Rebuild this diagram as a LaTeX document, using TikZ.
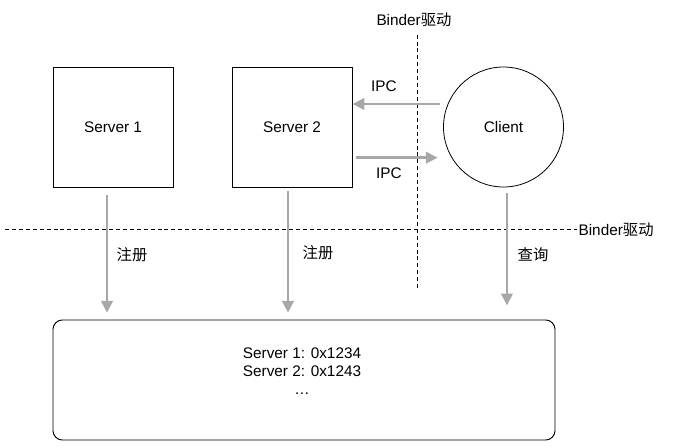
\documentclass[tikz,border=0pt]{standalone}
\usepackage{fontspec}
\setmainfont{Liberation Sans}
\newfontfamily\cjk{Noto Sans CJK SC}
\usetikzlibrary{arrows.meta}
\definecolor{flowgray}{HTML}{A8A8A8}
\begin{document}
\begin{tikzpicture}
    [
        x=0.75pt, y=-0.75pt,
        every node/.style={font=\fontsize{11.5}{13.5}\selectfont},
        process/.style={rectangle, draw, line width=0.7pt, minimum size=90pt, inner sep=0pt},
        client/.style={circle, draw, line width=0.6pt, minimum size=90pt, inner sep=0pt},
        registry/.style={rectangle, draw, rounded corners=7pt, line width=0.7pt, minimum width=376.5pt, minimum height=90pt},
        flow/.style={draw=flowgray, line width=2.2pt, -{Triangle[length=9pt, width=8.5pt, fill=flowgray]}},
        border/.style={dashed, dash pattern=on 3pt off 2.2pt, line width=0.6pt},
    ]
    \useasboundingbox (0,0) rectangle (675,448);
    \node (s1) at (113,127) [process] {Server 1};
    \node (s2) at (292,127) [process] {Server 2};
    \node (cl) at (503.5,127) [client] {Client};
    \node (reg) at (304,380) [registry] {};
    \node (tab) at (302,371) [align=center] {Server 1: 0x1234\\Server 2: 0x1243\\…};
    % driver borders
    \node (bindv) at (414,20) {Binder{\cjk 驱动}};
    \node (bindh) at (577,230) [anchor=west, inner sep=1pt] {Binder{\cjk 驱动}};
    \coordinate (vend) at (417,290);
    \coordinate (hend) at (5,229);
    \draw [border] (bindv.south -| vend) ++(0,3) -- (vend);
    \draw [border] (hend) -- (bindh.west |- hend);
    % IPC
    \draw [flow] ([yshift=17.25pt, xshift=-2.7pt]cl.west) -- ([yshift=17.25pt]s2.east);
    \draw [flow] ([yshift=-23pt, xshift=2.5pt]s2.east) -- ([yshift=-23pt, xshift=-4pt]cl.west);
    \node (ipc1) at (384,86) {IPC};
    \node (ipc2) at (389,173) {IPC};
    % register and query
    \draw [flow, shorten <=6pt, shorten >=5pt] ([xshift=-4.5pt]s1.south) -- ([xshift=-4.5pt]s1.south |- reg.north);
    \draw [flow, shorten <=2.3pt, shorten >=5pt] ([xshift=-3pt]s2.south) -- ([xshift=-3pt]s2.south |- reg.north);
    \draw [flow, shorten <=4.5pt, shorten >=10.5pt] ([xshift=2.6pt]cl.south) -- ([xshift=2.6pt]cl.south |- reg.north);
    \node (reg1) at (132,255) {\cjk 注册};
    \node (reg2) at (318,253) {\cjk 注册};
    \node (query) at (533,255) {\cjk 查询};
\end{tikzpicture}
\end{document}
